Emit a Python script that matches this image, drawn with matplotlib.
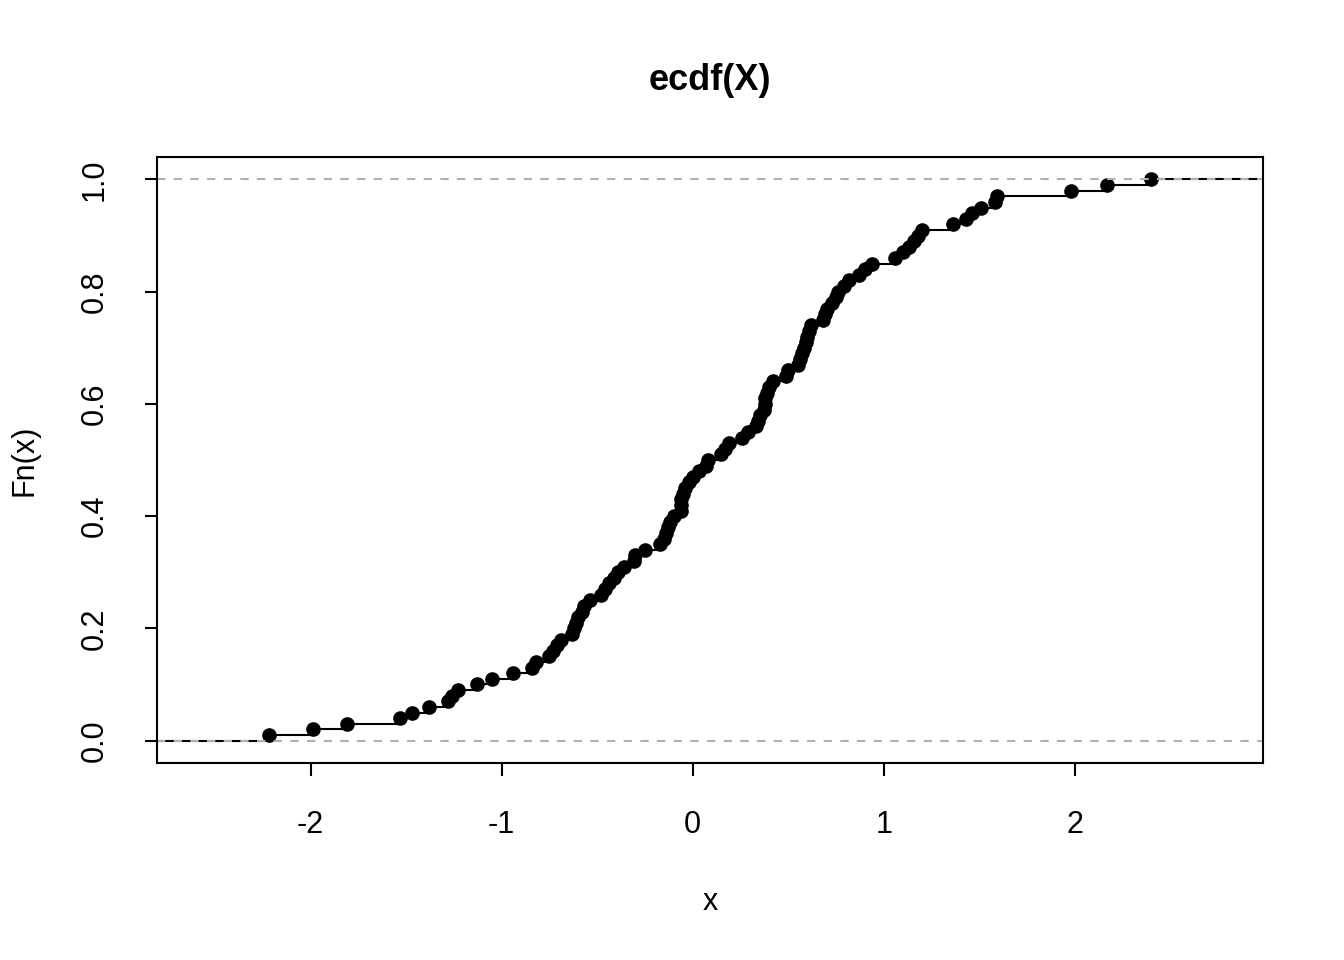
import numpy as np
import matplotlib
matplotlib.use("Agg")
import matplotlib.pyplot as plt

plt.rcParams['font.family'] = ['Liberation Sans', 'DejaVu Sans']

# sorted sample values (one point per 1/100 step)
X = [-2.22, -1.99, -1.81, -1.53, -1.47, -1.38, -1.28, -1.26, -1.23, -1.13,
     -1.05, -0.94, -0.84, -0.82, -0.75, -0.73, -0.71, -0.69, -0.63, -0.62,
     -0.61, -0.60, -0.58, -0.57, -0.54, -0.48, -0.46, -0.44, -0.41, -0.39,
     -0.36, -0.31, -0.30, -0.25, -0.17, -0.15, -0.14, -0.13, -0.12, -0.10,
     -0.06, -0.06, -0.06, -0.05, -0.04, -0.02, 0.00, 0.03, 0.07, 0.08,
     0.15, 0.17, 0.19, 0.26, 0.29, 0.33, 0.34, 0.35, 0.37, 0.38,
     0.38, 0.39, 0.40, 0.42, 0.49, 0.50, 0.55, 0.56, 0.57, 0.58,
     0.59, 0.60, 0.61, 0.62, 0.68, 0.69, 0.70, 0.73, 0.75, 0.76,
     0.79, 0.82, 0.87, 0.90, 0.94, 1.06, 1.10, 1.13, 1.16, 1.18,
     1.20, 1.36, 1.43, 1.46, 1.51, 1.58, 1.59, 1.98, 2.17, 2.40]
x_ticks = [-2, -1, 0, 1, 2]
y_ticks = [0.0, 0.2, 0.4, 0.6, 0.8, 1.0]

x = np.array(X)
n = len(x)
fn = np.arange(1, n + 1) / n

# R's plot.stepfun extends the range
dr = max(0.08 * (x.max() - x.min()), np.median(np.diff(x)))
lo, hi = x.min() - dr, x.max() + dr
pad = 0.04 * (hi - lo)
xmin, xmax = lo - pad, hi + pad

fig = plt.figure(figsize=(13.44, 9.6), dpi=100)
ax = fig.add_axes([157/1344, 1 - 763/960, (1263-157)/1344, (763-157)/960])

# horizontal segments of the step function, outer ones run to the box
left = np.concatenate([[xmin], x])
right = np.concatenate([x, [xmax]])
levels = np.concatenate([[0], fn])
ax.hlines(levels, left, right, colors='black', linewidth=1.5)
ax.plot(x, fn, 'o', color='black', markersize=9.5)

ax.axhline(0, color='#b0b0b0', linestyle=(0, (4, 4)), linewidth=1.5)
ax.axhline(1, color='#b0b0b0', linestyle=(0, (4, 4)), linewidth=1.5)

ax.set_xlim(xmin, xmax)
ax.set_ylim(-0.04, 1.04)
ax.set_xticks(x_ticks)
ax.set_xticklabels([str(t) for t in x_ticks])
ax.set_yticks(y_ticks)
ax.set_yticklabels([f"{t:.1f}" for t in y_ticks], rotation=90, va='center')
ax.tick_params(axis='both', length=9, width=1.5, labelsize=22, color='black')
ax.tick_params(axis='x', pad=25)
ax.tick_params(axis='y', pad=25)
for s in ax.spines.values():
    s.set_linewidth(1.5)

fig.text(710/1344, 1 - 902/960, 'x', ha='center', va='center', fontsize=22)
fig.text(25/1344, 1 - 460/960, 'Fn(x)', ha='center', va='center', fontsize=22, rotation=90)
fig.text(710/1344, 1 - 81/960, 'ecdf(X)', ha='center', va='center', fontsize=26, fontweight='bold')

fig.savefig('out.png', dpi=100)
